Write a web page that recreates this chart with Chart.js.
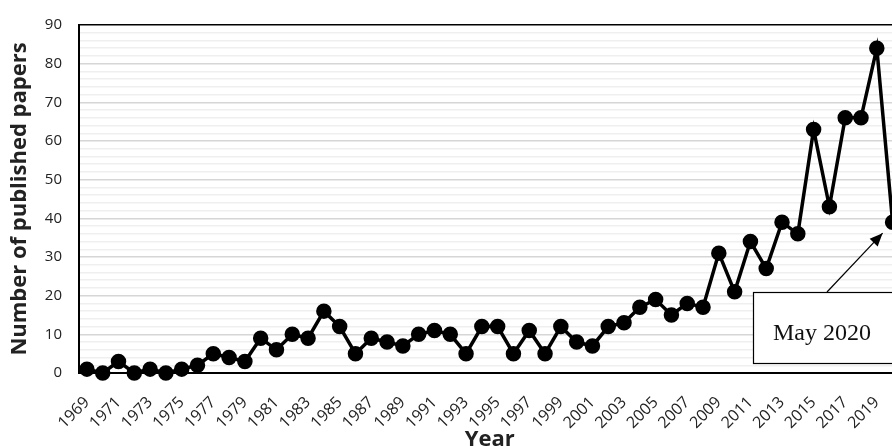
<!DOCTYPE html>
<html>
<head>
<meta charset="utf-8">
<script src="https://cdn.jsdelivr.net/npm/chart.js@4/dist/chart.umd.min.js"></script>
<style>
  html, body { margin: 0; padding: 0; overflow: hidden; background: #fff; }
  #wrap { width: 910px; height: 446px; }
</style>
</head>
<body>
<div id="wrap"><canvas id="c" width="910" height="446"></canvas></div>
<script>
const years = [];
for (let y = 1969; y <= 2020; y++) years.push(String(y));
const papers = [1, 0, 3, 0, 1, 0, 1, 2, 5, 4, 3, 9, 6, 10, 9, 16, 12, 5, 9, 8,
                7, 10, 11, 10, 5, 12, 12, 5, 11, 5, 12, 8, 7, 12, 13, 17, 19, 15, 18, 17,
                31, 21, 34, 27, 39, 36, 63, 43, 66, 66, 84, 39];
const yTitle = 'Number of published papers';
const xTitle = 'Year';
const noteText = 'May 2020';

const notePlugin = {
  id: 'note',
  afterDatasetsDraw(chart) {
    const ctx = chart.ctx;
    const meta = chart.getDatasetMeta(0);
    const last = meta.data[meta.data.length - 1];
    const bx = 753, by = 292, bw = 170, bh = 71;
    ctx.save();
    ctx.fillStyle = '#ffffff';
    ctx.fillRect(bx, by, bw, bh);
    ctx.strokeStyle = '#000';
    ctx.lineWidth = 1.2;
    ctx.strokeRect(bx + 0.5, by + 0.5, bw, bh);
    ctx.fillStyle = '#111';
    ctx.font = '24px "Liberation Serif", "Times New Roman", serif';
    ctx.textBaseline = 'middle';
    ctx.textAlign = 'left';
    ctx.fillText(noteText, 773, 334);
    // arrow
    const x0 = 827, y0 = by;
    const x1 = last.x - 10, y1 = last.y + 11;
    ctx.beginPath();
    ctx.moveTo(x0, y0);
    ctx.lineTo(x1, y1);
    ctx.lineWidth = 1.2;
    ctx.stroke();
    const ang = Math.atan2(y1 - y0, x1 - x0);
    const L = 13, W = 5.5;
    ctx.beginPath();
    ctx.moveTo(x1, y1);
    ctx.lineTo(x1 - L * Math.cos(ang) + W * Math.sin(ang), y1 - L * Math.sin(ang) - W * Math.cos(ang));
    ctx.lineTo(x1 - L * Math.cos(ang) - W * Math.sin(ang), y1 - L * Math.sin(ang) + W * Math.cos(ang));
    ctx.closePath();
    ctx.fillStyle = '#000';
    ctx.fill();
    ctx.restore();
  }
};

new Chart(document.getElementById('c'), {
  type: 'line',
  data: {
    labels: years,
    datasets: [{
      data: papers,
      borderColor: '#000',
      backgroundColor: '#000',
      borderWidth: 3.5,
      pointRadius: 6,
      pointHoverRadius: 6,
      pointBackgroundColor: '#000',
      pointBorderColor: '#000',
      tension: 0,
      clip: false
    }]
  },
  options: {
    responsive: false,
    animation: false,
    devicePixelRatio: 1,
    layout: { padding: { top: 25, right: 0, left: 0, bottom: 0 } },
    plugins: { legend: { display: false }, tooltip: { enabled: false } },
    scales: {
      x: {
        type: 'category',
        offset: true,
        afterFit(s) { s.height = 73; s.paddingRight = 0; s.paddingLeft = 0; },
        grid: { display: false, drawTicks: false },
        border: { display: true, color: '#000', width: 2 },
        ticks: {
          autoSkip: false,
          maxRotation: 45,
          minRotation: 45,
          padding: 20,
          color: '#222',
          font: { family: '"Open Sans", sans-serif', size: 16 },
          callback(v, i) { return i % 2 === 0 ? this.getLabelForValue(v) : ''; }
        },
        title: {
          display: true,
          text: xTitle,
          color: '#222',
          font: { family: '"Open Sans", sans-serif', size: 22, weight: 'bold', lineHeight: 1 },
          padding: { top: 0, bottom: -5 }
        }
      },
      y: {
        min: 0,
        max: 90,
        afterFit(s) { s.width = 79; s.paddingTop = 0; s.paddingBottom = 0; },
        grid: {
          drawTicks: false,
          color(ctx) {
            const v = ctx.tick.value;
            if (v === 90) return '#000';
            return v % 10 === 0 ? '#d6d6d6' : '#efefef';
          },
          lineWidth: 1.5
        },
        border: { display: true, color: '#000', width: 2 },
        ticks: {
          stepSize: 2,
          maxTicksLimit: 100,
          autoSkip: false,
          padding: 17,
          color: '#222',
          font: { family: '"Open Sans", sans-serif', size: 15 },
          callback(v) { return v % 10 === 0 ? v : ''; }
        },
        title: {
          display: true,
          text: yTitle,
          color: '#222',
          font: { family: '"Open Sans", sans-serif', size: 22, weight: 'bold', lineHeight: 1 },
          padding: { top: 9, bottom: 0 }
        }
      }
    }
  },
  plugins: [notePlugin]
});
</script>
</body>
</html>
